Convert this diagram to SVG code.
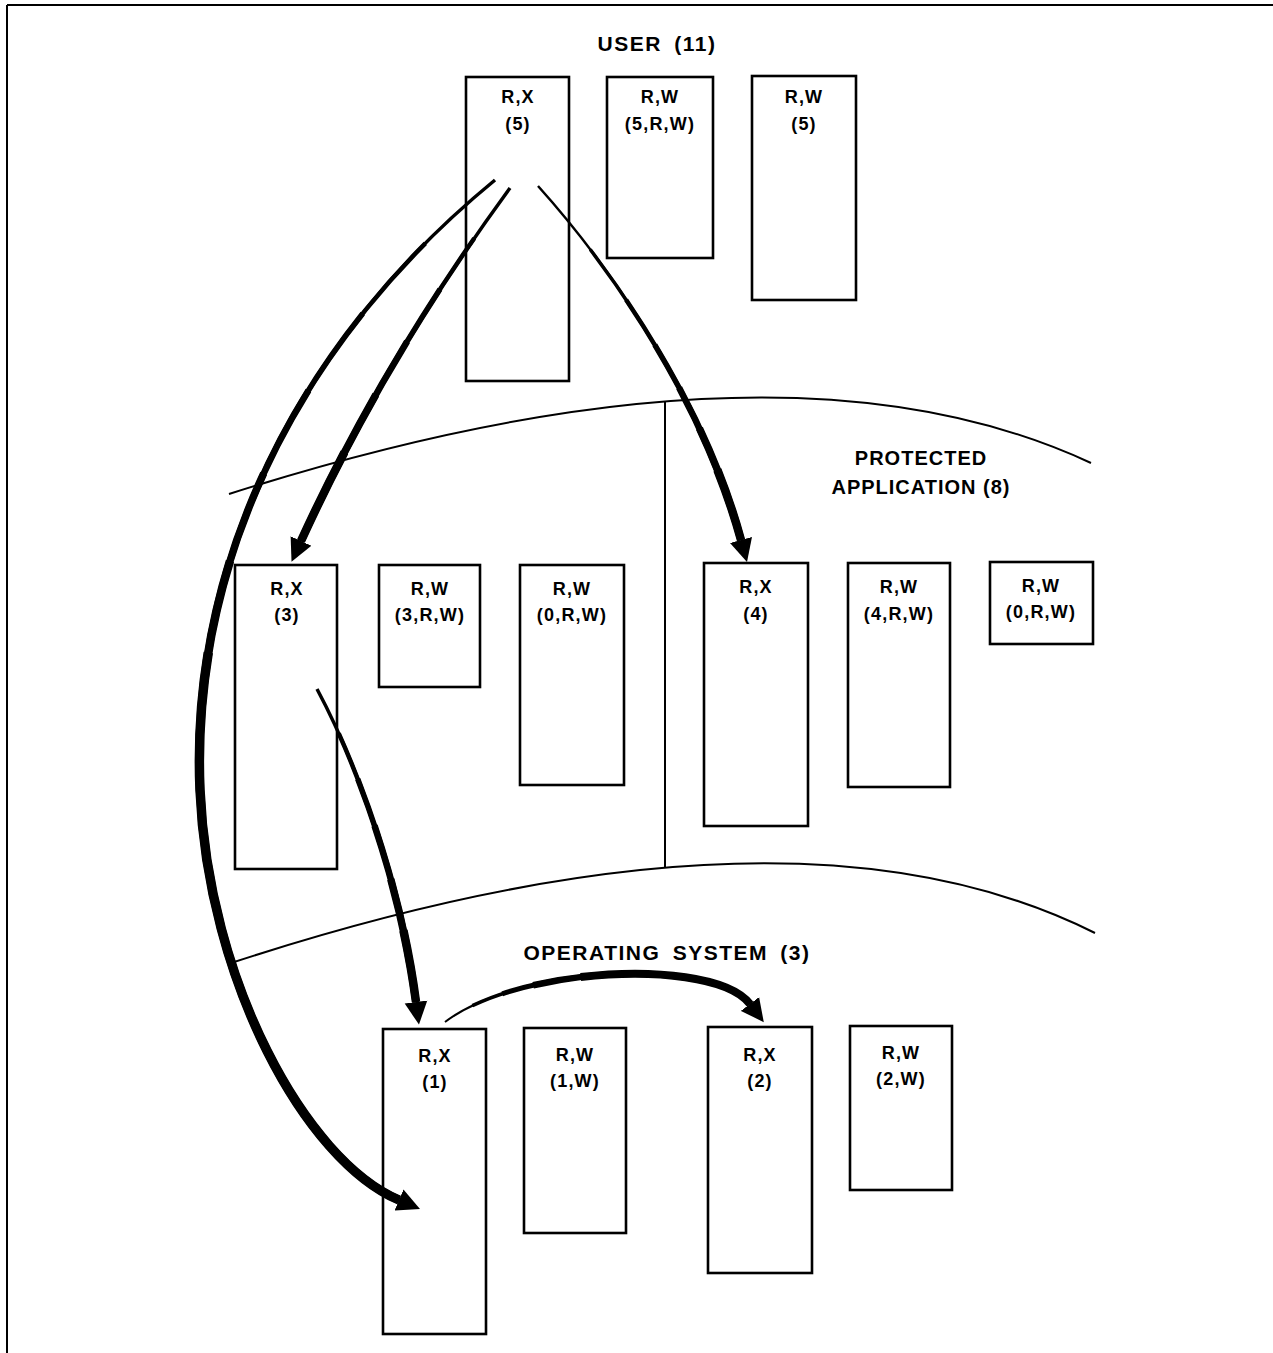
<svg xmlns="http://www.w3.org/2000/svg" width="1273" height="1353" viewBox="0 0 1273 1353">
<style>
.box{fill:none;stroke:#000;stroke-width:2.6}
.lbl{font-family:"Liberation Sans",Arial,sans-serif;font-weight:bold;font-size:18px;letter-spacing:1.2px;text-anchor:middle;fill:#000}
.hd{font-family:"Liberation Sans",Arial,sans-serif;font-weight:bold;font-size:20px;letter-spacing:1px;text-anchor:middle;fill:#000}
.hd2{font-size:21px;letter-spacing:1.5px;word-spacing:5px}
.zone{fill:none;stroke:#000;stroke-width:2}
.arr{fill:none;stroke:#000;stroke-linecap:butt;stroke-linejoin:round}
</style>
<defs>
<marker id="head" markerUnits="userSpaceOnUse" markerWidth="24" markerHeight="24" viewBox="0 -10 20 20" refX="0" refY="0" orient="auto">
<path d="M0,-9.5 L19,0 L0,9.5 z" fill="#000"/>
</marker>
</defs>
<rect width="1273" height="1353" fill="#fff"/>
<g id="frame">
<line class="zone" x1="7" y1="5" x2="1273" y2="5" stroke-width="2.5"/>
<line class="zone" x1="7" y1="5" x2="7" y2="1353" stroke-width="2.5"/>
</g>
<g id="zones">
<path class="zone" d="M229,494 Q780,318 1091,463"/>
<path class="zone" d="M231,963 Q790,780 1095,933"/>
<line class="zone" x1="665" y1="401" x2="665" y2="868"/>
</g>
<g id="headings">
<text class="hd hd2" x="657" y="51">USER (11)</text>
<text class="hd" x="921" y="465">PROTECTED</text>
<text class="hd" x="921" y="494">APPLICATION (8)</text>
<text class="hd hd2" x="667" y="960">OPERATING SYSTEM (3)</text>
</g>
<g id="user-rx5"><rect class="box" x="466" y="77" width="103" height="304"/><text class="lbl" x="518" y="103">R,X</text><text class="lbl" x="518" y="130">(5)</text></g>
<g id="user-rw5rw"><rect class="box" x="607" y="77" width="106" height="181"/><text class="lbl" x="660" y="103">R,W</text><text class="lbl" x="660" y="130">(5,R,W)</text></g>
<g id="user-rw5"><rect class="box" x="752" y="76" width="104" height="224"/><text class="lbl" x="804" y="103">R,W</text><text class="lbl" x="804" y="130">(5)</text></g>
<g id="pa-rx3"><rect class="box" x="235" y="565" width="102" height="304"/><text class="lbl" x="287" y="595">R,X</text><text class="lbl" x="287" y="621">(3)</text></g>
<g id="pa-rw3rw"><rect class="box" x="379" y="565" width="101" height="122"/><text class="lbl" x="430" y="595">R,W</text><text class="lbl" x="430" y="621">(3,R,W)</text></g>
<g id="pa-rw0rw-a"><rect class="box" x="520" y="565" width="104" height="220"/><text class="lbl" x="572" y="595">R,W</text><text class="lbl" x="572" y="621">(0,R,W)</text></g>
<g id="pa-rx4"><rect class="box" x="704" y="563" width="104" height="263"/><text class="lbl" x="756" y="593">R,X</text><text class="lbl" x="756" y="620">(4)</text></g>
<g id="pa-rw4rw"><rect class="box" x="848" y="563" width="102" height="224"/><text class="lbl" x="899" y="593">R,W</text><text class="lbl" x="899" y="620">(4,R,W)</text></g>
<g id="pa-rw0rw-b"><rect class="box" x="990" y="562" width="103" height="82"/><text class="lbl" x="1041" y="592">R,W</text><text class="lbl" x="1041" y="618">(0,R,W)</text></g>
<g id="os-rx1"><rect class="box" x="383" y="1029" width="103" height="305"/><text class="lbl" x="435" y="1062">R,X</text><text class="lbl" x="435" y="1088">(1)</text></g>
<g id="os-rw1w"><rect class="box" x="524" y="1028" width="102" height="205"/><text class="lbl" x="575" y="1061">R,W</text><text class="lbl" x="575" y="1087">(1,W)</text></g>
<g id="os-rx2"><rect class="box" x="708" y="1027" width="104" height="246"/><text class="lbl" x="760" y="1061">R,X</text><text class="lbl" x="760" y="1087">(2)</text></g>
<g id="os-rw2w"><rect class="box" x="850" y="1026" width="102" height="164"/><text class="lbl" x="901" y="1059">R,W</text><text class="lbl" x="901" y="1085">(2,W)</text></g>
<g id="connectors">
<g id="arrow-user-to-os">
<path class="arr" pathLength="100" stroke-width="3.5" marker-end="url(#head)" d="M495,180 C300,340 190,560 200,790 C208,980 305,1160 399,1200"/>
<path class="arr" pathLength="100" stroke-width="4.5" stroke-dasharray="0 8 92" d="M495,180 C300,340 190,560 200,790 C208,980 305,1160 399,1200"/>
<path class="arr" pathLength="100" stroke-width="5.5" stroke-dasharray="0 16 84" d="M495,180 C300,340 190,560 200,790 C208,980 305,1160 399,1200"/>
<path class="arr" pathLength="100" stroke-width="6.5" stroke-dasharray="0 24 76" d="M495,180 C300,340 190,560 200,790 C208,980 305,1160 399,1200"/>
<path class="arr" pathLength="100" stroke-width="7.5" stroke-dasharray="0 32 68" d="M495,180 C300,340 190,560 200,790 C208,980 305,1160 399,1200"/>
<path class="arr" pathLength="100" stroke-width="8.5" stroke-dasharray="0 40 60" d="M495,180 C300,340 190,560 200,790 C208,980 305,1160 399,1200"/>
<path class="arr" pathLength="100" stroke-width="9.5" stroke-dasharray="0 48 52" d="M495,180 C300,340 190,560 200,790 C208,980 305,1160 399,1200"/>
</g>
<g id="arrow-user-to-pa3">
<path class="arr" pathLength="100" stroke-width="3.5" marker-end="url(#head)" d="M510,188 C450,270 370,390 301,541"/>
<path class="arr" pathLength="100" stroke-width="4.5" stroke-dasharray="0 15 85" d="M510,188 C450,270 370,390 301,541"/>
<path class="arr" pathLength="100" stroke-width="5.5" stroke-dasharray="0 30 70" d="M510,188 C450,270 370,390 301,541"/>
<path class="arr" pathLength="100" stroke-width="6.5" stroke-dasharray="0 45 55" d="M510,188 C450,270 370,390 301,541"/>
<path class="arr" pathLength="100" stroke-width="7.5" stroke-dasharray="0 60 40" d="M510,188 C450,270 370,390 301,541"/>
<path class="arr" pathLength="100" stroke-width="8.5" stroke-dasharray="0 76 24" d="M510,188 C450,270 370,390 301,541"/>
</g>
<g id="arrow-user-to-pa4">
<path class="arr" pathLength="100" stroke-width="2.5" marker-end="url(#head)" d="M538,186 C600,255 700,390 741,540"/>
<path class="arr" pathLength="100" stroke-width="3.5" stroke-dasharray="0 20 80" d="M538,186 C600,255 700,390 741,540"/>
<path class="arr" pathLength="100" stroke-width="4.5" stroke-dasharray="0 35 65" d="M538,186 C600,255 700,390 741,540"/>
<path class="arr" pathLength="100" stroke-width="5.5" stroke-dasharray="0 48 52" d="M538,186 C600,255 700,390 741,540"/>
<path class="arr" pathLength="100" stroke-width="6.5" stroke-dasharray="0 60 40" d="M538,186 C600,255 700,390 741,540"/>
<path class="arr" pathLength="100" stroke-width="7.5" stroke-dasharray="0 71 29" d="M538,186 C600,255 700,390 741,540"/>
<path class="arr" pathLength="100" stroke-width="8.5" stroke-dasharray="0 82 18" d="M538,186 C600,255 700,390 741,540"/>
</g>
<g id="arrow-pa3-to-os1">
<path class="arr" pathLength="100" stroke-width="3.5" marker-end="url(#head)" d="M317,689 C355,760 400,880 416,1002"/>
<path class="arr" pathLength="100" stroke-width="4.5" stroke-dasharray="0 15 85" d="M317,689 C355,760 400,880 416,1002"/>
<path class="arr" pathLength="100" stroke-width="5.5" stroke-dasharray="0 30 70" d="M317,689 C355,760 400,880 416,1002"/>
<path class="arr" pathLength="100" stroke-width="6.5" stroke-dasharray="0 45 55" d="M317,689 C355,760 400,880 416,1002"/>
<path class="arr" pathLength="100" stroke-width="7.5" stroke-dasharray="0 62 38" d="M317,689 C355,760 400,880 416,1002"/>
<path class="arr" pathLength="100" stroke-width="8.5" stroke-dasharray="0 78 22" d="M317,689 C355,760 400,880 416,1002"/>
</g>
<g id="arrow-os1-to-os2">
<path class="arr" pathLength="100" stroke-width="2" marker-end="url(#head)" d="M445,1022 C520,965 715,958 750,1004"/>
<path class="arr" pathLength="100" stroke-width="3.5" stroke-dasharray="0 10 90" d="M445,1022 C520,965 715,958 750,1004"/>
<path class="arr" pathLength="100" stroke-width="5" stroke-dasharray="0 20 80" d="M445,1022 C520,965 715,958 750,1004"/>
<path class="arr" pathLength="100" stroke-width="6.5" stroke-dasharray="0 30 70" d="M445,1022 C520,965 715,958 750,1004"/>
<path class="arr" pathLength="100" stroke-width="8" stroke-dasharray="0 45 55" d="M445,1022 C520,965 715,958 750,1004"/>
</g>
</g>
</svg>
